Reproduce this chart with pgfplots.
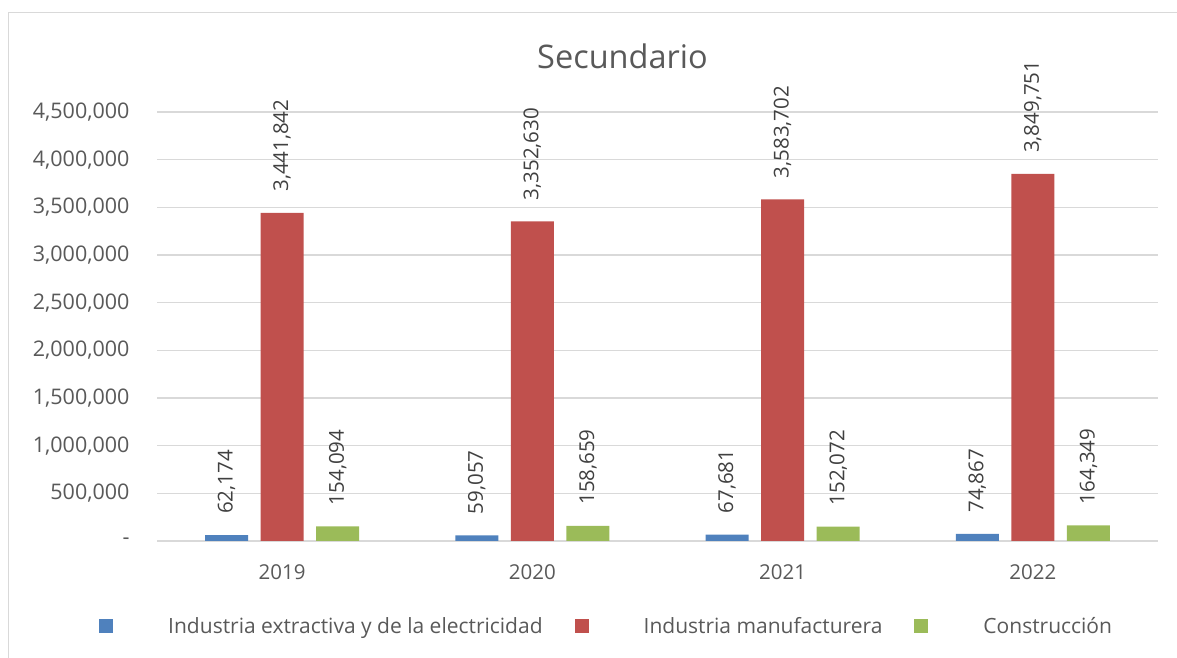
\documentclass[border=0pt]{standalone}
\usepackage{pgfplots}
\pgfplotsset{compat=1.18}
\usepackage{fontspec}
\setmainfont{Open Sans}
\definecolor{cblue}{HTML}{4F81BD}
\definecolor{cred}{HTML}{C0504D}
\definecolor{cgreen}{HTML}{9BBB59}
\definecolor{gridc}{HTML}{D9D9D9}
\definecolor{txt}{HTML}{595959}
\definecolor{lbl}{HTML}{404040}
\begin{document}
\begin{tikzpicture}[x=1pt,y=1pt]
\path[use as bounding box] (0,0) rectangle (1177,658);
\draw[gridc, line width=1.5pt] (8.5,-5) -- (8.5,645.5) -- (1185,645.5);
\node[anchor=base, text=txt, font=\fontsize{32.5}{38}\selectfont] at (622.5,589) {Secundario};
\begin{axis}[
  at={(157pt,117pt)}, anchor=south west,
  scale only axis, width=1001pt, height=429pt,
  xmin=-0.5, xmax=3.5, ymin=0, ymax=4500000,
  clip=false,
  ybar, bar width=0.172,
  axis line style={draw=none},
  major tick length=0pt,
  ymajorgrids, major grid style={gridc, line width=1.5pt},
  xtick={0,1,2,3}, xticklabels={2019,2020,2021,2022},
  ytick={0,500000,1000000,1500000,2000000,2500000,3000000,3500000,4000000,4500000},
  yticklabels={-,{500,000},{1,000,000},{1,500,000},{2,000,000},{2,500,000},{3,000,000},{3,500,000},{4,000,000},{4,500,000}},
  scaled y ticks=false,
  /pgf/number format/assume math mode=true,
  xticklabel style={text=txt, font=\fontsize{20.5}{24}\selectfont, yshift=-20pt},
  yticklabel style={text=txt, font=\fontsize{21.5}{25}\selectfont, xshift=-24pt},
  point meta=explicit symbolic,
  nodes near coords,
  nodes near coords style={rotate=90, anchor=west, inner xsep=21pt, inner ysep=0pt, text=lbl, font=\fontsize{20.5}{24}\selectfont},
  legend columns=3,
  legend style={at={(rel axis cs:-0.0579,-0.198)}, anchor=west, draw=none, fill=none, inner sep=0pt,
    font=\fontsize{21}{25}\selectfont, text=txt,
    /tikz/every even column/.style={column sep=30pt}},
  legend image code/.code={\fill[#1,draw=none] (0pt,-7pt) rectangle (14pt,7pt); \path[draw=none,fill=none] (0pt,0pt) rectangle (67pt,0.1pt);},
]
\addplot[fill=cblue, draw=none, bar shift=-0.222] coordinates {(0,62174) [62,174] (1,59057) [59,057] (2,67681) [67,681] (3,74867) [74,867]};
\addplot[fill=cred, draw=none, bar shift=0] coordinates {(0,3441842) [3,441,842] (1,3352630) [3,352,630] (2,3583702) [3,583,702] (3,3849751) [3,849,751]};
\addplot[fill=cgreen, draw=none, bar shift=0.222] coordinates {(0,154094) [154,094] (1,158659) [158,659] (2,152072) [152,072] (3,164349) [164,349]};
\legend{Industria extractiva y de la electricidad, Industria manufacturera, Construcción}
\end{axis}
\end{tikzpicture}
\end{document}
